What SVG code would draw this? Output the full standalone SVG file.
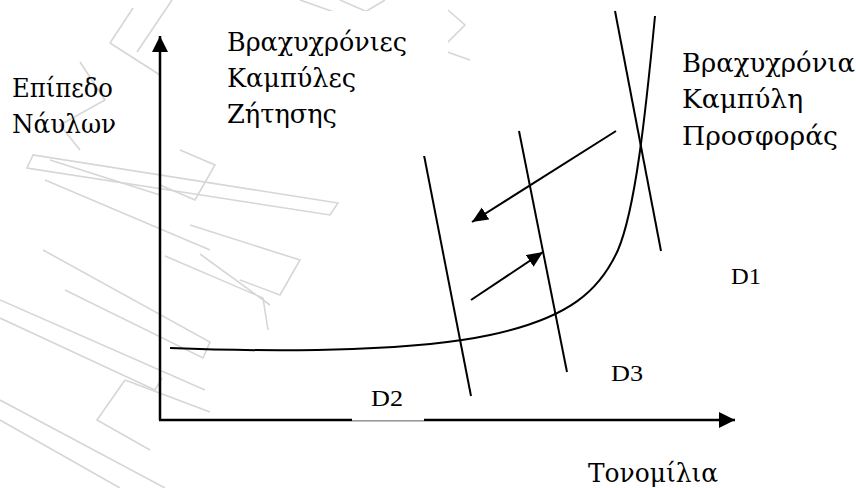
<svg xmlns="http://www.w3.org/2000/svg" width="856" height="488" viewBox="0 0 856 488">
<style>
.wm{fill:none;stroke:#d6d6d6;stroke-width:1.6}
.ln{fill:none;stroke:#000;stroke-width:2}
.ax{fill:none;stroke:#000;stroke-width:2.5}
.box{fill:#fff;stroke:none}
.t{font-family:"DejaVu Serif","Liberation Serif",serif;font-size:26px;fill:#000}
.d{font-family:"Liberation Serif","Times New Roman",serif;font-size:24px;fill:#000}
</style>
<defs>
<marker id="ah" markerUnits="userSpaceOnUse" markerWidth="18" markerHeight="16" refX="16" refY="8" orient="auto">
<path d="M0,0 L16,8 L0,16 Z" fill="#000"/>
</marker>
<marker id="ah2" markerUnits="userSpaceOnUse" markerWidth="18" markerHeight="16" refX="16" refY="7" orient="auto">
<path d="M0,0 L16,7 L0,14 Z" fill="#000"/>
</marker>
</defs>
<rect x="0" y="0" width="856" height="488" fill="#fff"/>
<g id="watermark">
<path class="wm" d="M110,43 L133,8 M110,43 L160,75 M137,52 L172,0"/>
<path class="wm" d="M80,62 L105,100 L60,125 L80,150"/>
<path class="wm" d="M33,155 L27,168 L330,215 L338,203 Z"/>
<path class="wm" d="M50,160 L160,195 M45,180 L210,250"/>
<path class="wm" d="M180,150 L215,165 L195,200 L160,185"/>
<path class="wm" d="M190,225 L300,260 L280,295 L240,280"/>
<path class="wm" d="M0,300 L205,390 M0,318 L155,390 L162,378"/>
<path class="wm" d="M43,250 L210,342 L203,358 L65,290"/>
<path class="wm" d="M0,400 L165,488 M0,420 L120,488"/>
<path class="wm" d="M125,380 L210,412 M125,380 L97,420 L150,450"/>
<path class="wm" d="M165,256 L263,298 L268,330 M200,254 L270,305"/>
<path class="wm" d="M300,0 L470,60 M340,0 L420,35"/>
<path class="wm" d="M360,15 L385,0 M448,10 L465,25 L445,45"/>
</g>
<g id="connectors">
<line class="ax" x1="160" y1="420" x2="160" y2="36" marker-end="url(#ah)"/>
<line class="ax" x1="159" y1="420" x2="735" y2="420" marker-end="url(#ah)"/>
<path id="supply" class="ln" d="M170,348 C300,353 420,350 490,335 C570,318 600,290 618,250 C635,210 645,120 655,16"/>
<line id="d2line" class="ln" x1="423" y1="150" x2="471" y2="396"/>
<line id="d3line" class="ln" x1="519" y1="131" x2="567" y2="372"/>
<line id="d1line" class="ln" x1="615" y1="11" x2="661" y2="251"/>
<line class="ln" x1="616" y1="131" x2="472" y2="222" stroke-width="2.5" marker-end="url(#ah2)"/>
<line class="ln" x1="471" y1="300" x2="543" y2="252" stroke-width="2.5" marker-end="url(#ah2)"/>
</g>
<g id="label-price">
<text class="t" x="12" y="97" textLength="101" lengthAdjust="spacingAndGlyphs">Επίπεδο</text>
<text class="t" x="12" y="133" textLength="104" lengthAdjust="spacingAndGlyphs">Νάυλων</text>
</g>
<g id="label-demand">
<rect class="box" x="207" y="11" width="241" height="145"/>
<text class="t" x="227" y="51" textLength="180" lengthAdjust="spacingAndGlyphs">Βραχυχρόνιες</text>
<text class="t" x="227" y="87" textLength="129" lengthAdjust="spacingAndGlyphs">Καμπύλες</text>
<text class="t" x="227" y="123" textLength="110" lengthAdjust="spacingAndGlyphs">Ζήτησης</text>
</g>
<g id="label-supply">
<rect class="box" x="663" y="33" width="193" height="145"/>
<text class="t" x="682" y="72" textLength="173" lengthAdjust="spacingAndGlyphs">Βραχυχρόνια</text>
<text class="t" x="682" y="108" textLength="121" lengthAdjust="spacingAndGlyphs">Καμπύλη</text>
<text class="t" x="682" y="145" textLength="156" lengthAdjust="spacingAndGlyphs">Προσφοράς</text>
</g>
<g id="label-d1">
<rect class="box" x="711" y="251" width="72" height="48"/>
<text class="d" x="731" y="284" textLength="30" lengthAdjust="spacingAndGlyphs">D1</text>
</g>
<g id="label-d3">
<rect class="box" x="591" y="346" width="74" height="50"/>
<text class="d" x="611" y="381" textLength="32" lengthAdjust="spacingAndGlyphs">D3</text>
</g>
<g id="label-d2">
<rect class="box" x="352" y="372" width="72" height="48.6"/>
<text class="d" x="371" y="406" textLength="32" lengthAdjust="spacingAndGlyphs">D2</text>
</g>
<g id="label-x">
<rect class="box" x="566" y="443" width="194" height="45"/>
<text class="t" x="588" y="482" textLength="130" lengthAdjust="spacingAndGlyphs">Τονομίλια</text>
</g>
</svg>
